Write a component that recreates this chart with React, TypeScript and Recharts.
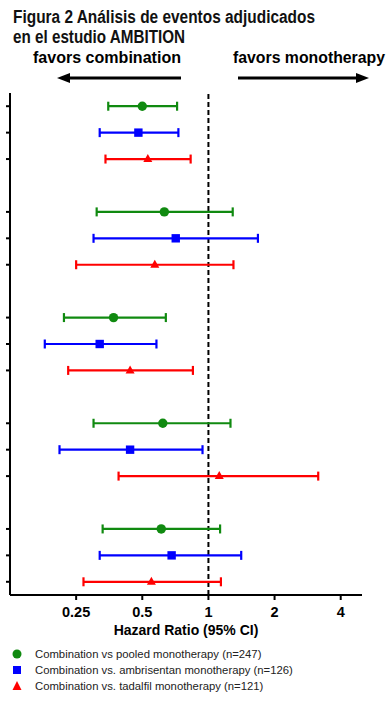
import React from 'react';
import { ScatterChart, Scatter, XAxis, YAxis, ErrorBar, ReferenceLine, Legend } from 'recharts';

// five adjudicated-event subgroups (labels are not shown in the figure)
const subgroupCount = 5;

const xTicks = [0.25, 0.5, 1, 2, 4];

const pooledHR = [0.5, 0.63, 0.37, 0.62, 0.61];
const pooledLo = [0.35, 0.31, 0.22, 0.3, 0.33];
const pooledHi = [0.72, 1.29, 0.64, 1.26, 1.13];

const ambriHR = [0.48, 0.71, 0.32, 0.44, 0.68];
const ambriLo = [0.32, 0.3, 0.18, 0.21, 0.32];
const ambriHi = [0.73, 1.68, 0.58, 0.94, 1.41];

const tadaHR = [0.53, 0.57, 0.44, 1.12, 0.55];
const tadaLo = [0.34, 0.25, 0.23, 0.39, 0.27];
const tadaHi = [0.83, 1.3, 0.85, 3.16, 1.14];

const seriesNames = [
  'Combination vs pooled monotherapy (n=247)',
  'Combination vs. ambrisentan monotherapy (n=126)',
  'Combination vs. tadalfil monotherapy (n=121)',
];

const GREEN = '#108a10';
const BLUE = '#0000ff';
const RED = '#ff0000';
const FONT = '"Liberation Sans", Arial, Helvetica, sans-serif';

const build = (hr: number[], lo: number[], hi: number[], s: number) =>
  hr.map((v, g) => ({ row: g * 4 + s, hr: v, err: [v - lo[g], hi[g] - v] }));

const pooledData = build(pooledHR, pooledLo, pooledHi, 0);
const ambriData = build(ambriHR, ambriLo, ambriHi, 1);
const tadaData = build(tadaHR, tadaLo, tadaHi, 2);

const rowTicks: number[] = [];
for (let g = 0; g < subgroupCount; g++) rowTicks.push(g * 4, g * 4 + 1, g * 4 + 2);

const CircleShape = (p: any) => <circle cx={p.cx} cy={p.cy} r={4.7} fill={GREEN} />;
const SquareShape = (p: any) => <rect x={p.cx - 4.2} y={p.cy - 4.2} width={8.4} height={8.4} fill={BLUE} />;
const TriangleShape = (p: any) => (
  <polygon points={`${p.cx},${p.cy - 5} ${p.cx - 4.5},${p.cy + 3} ${p.cx + 4.5},${p.cy + 3}`} fill={RED} />
);

const renderLegend = (props: any) => {
  const { payload } = props;
  return (
    <svg width={392} height={50} style={{ display: 'block' }}>
      {payload.map((entry: any, i: number) => {
        const cy = 8 + i * 16;
        let icon;
        if (i === 0) icon = <circle cx={17} cy={cy} r={4.5} fill={GREEN} />;
        else if (i === 1) icon = <rect x={13} y={cy - 4} width={8} height={8} fill={BLUE} />;
        else icon = <polygon points={`17,${cy - 5} 12.5,${cy + 4} 21.5,${cy + 4}`} fill={RED} />;
        return (
          <g key={i}>
            {icon}
            <text x={35} y={cy + 4} fontSize={11.3} fontFamily={FONT} fill="#222">
              {entry.value}
            </text>
          </g>
        );
      })}
    </svg>
  );
};

export default function App() {
  return (
    <div style={{ position: 'absolute', top: 0, left: 0, width: 392, height: 702, background: '#fff' }}>
      <ScatterChart width={392} height={702} margin={{ top: 93, right: 30, bottom: 77, left: 4 }}>
        <XAxis
          type="number"
          dataKey="hr"
          scale="log"
          domain={[0.125, 5]}
          ticks={xTicks}
          allowDataOverflow
          height={30}
          tickSize={5}
          tickMargin={7}
          stroke="#000"
          strokeWidth={2}
          tick={{ fill: '#000', fontSize: 14.5, fontWeight: 'bold', fontFamily: FONT }}
          tickFormatter={(v: number) => String(v)}
          label={{
            value: 'Hazard Ratio (95% CI)',
            position: 'bottom',
            offset: 0,
            fill: '#000',
            fontSize: 14,
            fontWeight: 'bold',
            fontFamily: FONT,
          }}
        />
        <YAxis
          type="number"
          dataKey="row"
          domain={[-0.5, 18.5]}
          reversed
          ticks={rowTicks}
          width={6}
          tickSize={4}
          stroke="#000"
          strokeWidth={2}
          tickFormatter={() => ''}
        />
        <ReferenceLine x={1} stroke="#000" strokeWidth={2} strokeDasharray="5 3" />
        <Scatter name={seriesNames[0]} data={pooledData} fill={GREEN} legendType="circle" shape={CircleShape} isAnimationActive={false}>
          <ErrorBar dataKey="err" direction="x" width={4.5} strokeWidth={2.2} stroke={GREEN} isAnimationActive={false} />
        </Scatter>
        <Scatter name={seriesNames[1]} data={ambriData} fill={BLUE} legendType="square" shape={SquareShape} isAnimationActive={false}>
          <ErrorBar dataKey="err" direction="x" width={4.5} strokeWidth={2.2} stroke={BLUE} isAnimationActive={false} />
        </Scatter>
        <Scatter name={seriesNames[2]} data={tadaData} fill={RED} legendType="triangle" shape={TriangleShape} isAnimationActive={false}>
          <ErrorBar dataKey="err" direction="x" width={4.5} strokeWidth={2.2} stroke={RED} isAnimationActive={false} />
        </Scatter>
        <Legend
          layout="vertical"
          align="center"
          verticalAlign="middle"
          content={renderLegend}
          wrapperStyle={{ top: 646, left: 0, width: 392, height: 50 }}
        />
      </ScatterChart>
      <svg width={392} height={100} style={{ position: 'absolute', top: 0, left: 0, pointerEvents: 'none' }}>
        <g fontFamily={FONT} fontWeight="bold" fontSize={18} fill="#111">
          <text x={13} y={22.7} textLength={302} lengthAdjust="spacingAndGlyphs">
            Figura 2 Análisis de eventos adjudicados
          </text>
          <text x={13} y={43.3} textLength={172} lengthAdjust="spacingAndGlyphs">
            en el estudio AMBITION
          </text>
        </g>
        <g fontFamily={FONT} fontWeight="bold" fontSize={16} fill="#000">
          <text x={33} y={63} textLength={148} lengthAdjust="spacingAndGlyphs">favors combination</text>
          <text x={233} y={63} textLength={152} lengthAdjust="spacingAndGlyphs">favors monotherapy</text>
        </g>
        <line x1={181} y1={78} x2={68} y2={78} stroke="#000" strokeWidth={3.2} />
        <polygon points="57,78 70,73 70,83" fill="#000" />
        <line x1={238} y1={78} x2={358} y2={78} stroke="#000" strokeWidth={3.2} />
        <polygon points="369,78 356,73 356,83" fill="#000" />
      </svg>
    </div>
  );
}
